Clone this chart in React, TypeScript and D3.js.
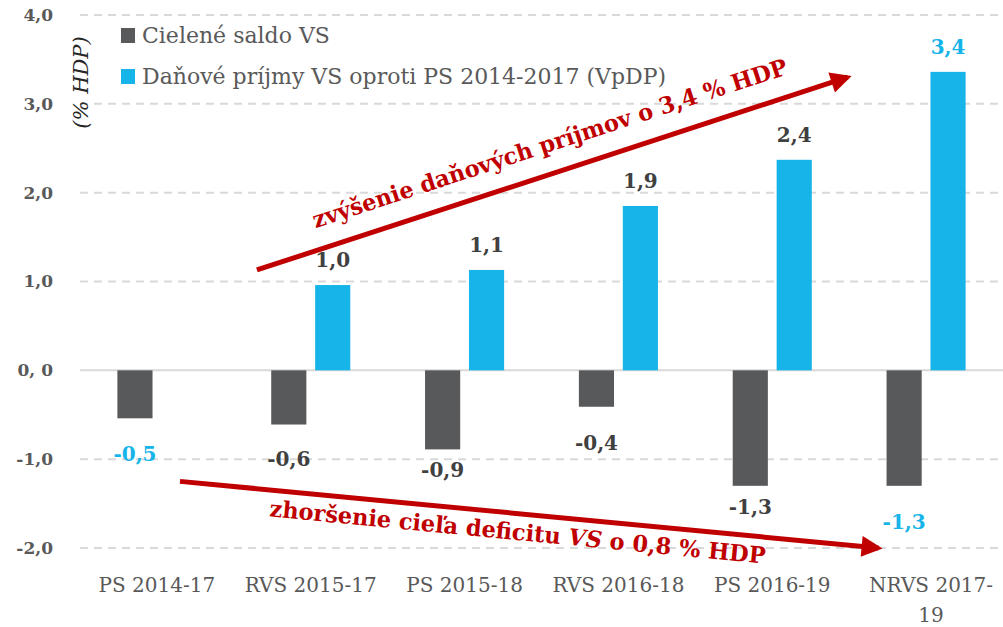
import React, { useEffect } from "react";
import * as d3 from "d3";

// data
const categories = ["PS 2014-17", "RVS 2015-17", "PS 2015-18", "RVS 2016-18", "PS 2016-19", "NRVS 2017-19"];
const saldo = [-0.54, -0.61, -0.89, -0.41, -1.3, -1.3];
const prijmy = [null, 0.96, 1.13, 1.85, 2.37, 3.36];
const saldoLabels = ["-0,5", "-0,6", "-0,9", "-0,4", "-1,3", "-1,3"];
const prijmyLabels = ["", "1,0", "1,1", "1,9", "2,4", "3,4"];
const yTicks = [-2, -1, 0, 1, 2, 3, 4];
const yTickLabels = ["-2,0", "-1,0", "0, 0", "1,0", "2,0", "3,0", "4,0"];
const seriesNames = ["Cielené saldo VS", "Daňové príjmy VS oproti PS 2014-2017 (VpDP)"];

const GRAY = "#58595b";
const CYAN = "#16b4e8";
const RED = "#c00000";
const TEXT = "#595959";
const FONT = "'DejaVu Serif', 'Liberation Serif', serif";

// label placement below the negative bars (px), as in the original
const saldoLabelDy = [36, 34, 21, 36, 21, 36];
const saldoLabelColor = [CYAN, "#404040", "#404040", "#404040", "#404040", CYAN];

const App = ({ width = 1003, height = 627 }) => {
    useEffect(() => {
        document.body.style.margin = "0";
    }, []);

    const left = 80;
    const right = 1003;

    const y = d3.scaleLinear().domain([-2, 4]).range([548, 15]);
    const x0 = d3.scaleBand().domain(categories).range([left, right]).paddingInner(0.486).paddingOuter(0.243);
    const x1 = d3.scaleBand().domain(["saldo", "prijmy"]).range([0, x0.bandwidth()]).paddingInner(0.2);
    // continuous index scale for the annotation arrows
    const xi = d3.scaleLinear().domain([-0.5, categories.length - 0.5]).range([left, right]);

    const upFrom = [xi(0.65), y(1.13)];
    const upTo = [xi(4.49), y(3.3)];
    const downFrom = [xi(0.15), y(-1.25)];
    const downTo = [xi(4.69), y(-2.0)];
    const upAngle = (Math.atan2(upTo[1] - upFrom[1], upTo[0] - upFrom[0]) * 180) / Math.PI;
    const downAngle = (Math.atan2(downTo[1] - downFrom[1], downTo[0] - downFrom[0]) * 180) / Math.PI;

    return (
        <svg width={width} height={height} style={{ display: "block", background: "white" }}>
            <defs>
                <marker id="head" viewBox="0 0 10 10" refX="8" refY="5" markerWidth="5" markerHeight="4.2" orient="auto" markerUnits="strokeWidth">
                    <path d="M0,0 L10,5 L0,10 z" fill={RED} />
                </marker>
            </defs>

            {/* gridlines */}
            {yTicks.map((t) => (
                <line
                    key={t}
                    x1={left}
                    x2={right}
                    y1={y(t)}
                    y2={y(t)}
                    stroke="#d9d9d9"
                    strokeWidth={2}
                    strokeDasharray={t === 0 ? "none" : "8,6"}
                />
            ))}

            {/* y tick labels */}
            {yTicks.map((t, i) => (
                <text key={t} x={53} y={y(t)} dy="0.35em" textAnchor="end" fontFamily={FONT} fontSize={17} fontWeight="bold" fill={TEXT}>
                    {yTickLabels[i]}
                </text>
            ))}

            {/* axis title */}
            <text
                transform={`translate(88, ${y(3.24)}) rotate(-90)`}
                textAnchor="middle"
                fontFamily={FONT}
                fontSize={21}
                fontStyle="italic"
                fill="#262626"
            >
                (% HDP)
            </text>

            {/* bars */}
            {categories.map((c, i) => (
                <g key={c} transform={`translate(${x0(c)},0)`}>
                    <rect
                        x={x1("saldo")}
                        y={y(Math.max(0, saldo[i]))}
                        width={x1.bandwidth()}
                        height={Math.abs(y(saldo[i]) - y(0))}
                        fill={GRAY}
                    />
                    {prijmy[i] !== null && (
                        <rect
                            x={x1("prijmy")}
                            y={y(prijmy[i])}
                            width={x1.bandwidth()}
                            height={y(0) - y(prijmy[i])}
                            fill={CYAN}
                        />
                    )}
                    <text
                        x={x1("saldo") + x1.bandwidth() / 2}
                        y={y(saldo[i]) + saldoLabelDy[i]}
                        dy="0.35em"
                        textAnchor="middle"
                        fontFamily={FONT}
                        fontSize={20}
                        fontWeight="bold"
                        fill={saldoLabelColor[i]}
                    >
                        {saldoLabels[i]}
                    </text>
                    {prijmy[i] !== null && (
                        <text
                            x={x1("prijmy") + x1.bandwidth() / 2}
                            y={y(prijmy[i]) - 25}
                            dy="0.35em"
                            textAnchor="middle"
                            fontFamily={FONT}
                            fontSize={20}
                            fontWeight="bold"
                            fill={i === categories.length - 1 ? CYAN : "#404040"}
                        >
                            {prijmyLabels[i]}
                        </text>
                    )}
                </g>
            ))}

            {/* category labels */}
            {categories.map((c) => {
                const cx = x0(c) + x0.bandwidth() / 2;
                const wrap = c.startsWith("NRVS");
                return (
                    <text key={c} x={cx} y={585} dy="0.35em" textAnchor="middle" fontFamily={FONT} fontSize={20} fill={TEXT}>
                        {wrap ? (
                            <>
                                <tspan x={cx + 5}>NRVS 2017-</tspan>
                                <tspan x={cx + 5} dy={30}>19</tspan>
                            </>
                        ) : (
                            c
                        )}
                    </text>
                );
            })}

            {/* legend */}
            {seriesNames.map((s, i) => (
                <g key={s} transform={`translate(121, ${35 + i * 41})`}>
                    <rect x={0} y={-7} width={14} height={15} fill={i === 0 ? GRAY : CYAN} />
                    <text x={21} y={0} dy="0.35em" fontFamily={FONT} fontSize={22} fill={TEXT}>
                        {s}
                    </text>
                </g>
            ))}

            {/* annotation arrows */}
            <line x1={upFrom[0]} y1={upFrom[1]} x2={upTo[0]} y2={upTo[1]} stroke={RED} strokeWidth={5} markerEnd="url(#head)" />
            <line x1={downFrom[0]} y1={downFrom[1]} x2={downTo[0]} y2={downTo[1]} stroke={RED} strokeWidth={5} markerEnd="url(#head)" />

            <text
                transform={`translate(${xi(2.57)}, ${y(2.47)}) rotate(${upAngle})`}
                textAnchor="middle"
                fontFamily={FONT}
                fontSize={23}
                fontWeight="bold"
                fill={RED}
                textLength={498}
                lengthAdjust="spacingAndGlyphs"
            >
                zvýšenie daňových  príjmov o 3,4 % HDP
            </text>
            <text
                transform={`translate(${xi(2.34)}, ${y(-1.91)}) rotate(${downAngle})`}
                textAnchor="middle"
                fontFamily={FONT}
                fontSize={23}
                fontWeight="bold"
                fill={RED}
                textLength={498}
                lengthAdjust="spacingAndGlyphs"
            >
                zhoršenie cieľa deficitu <tspan fontStyle="italic">VS</tspan> o 0,8 % HDP
            </text>
        </svg>
    );
};

export default App;
